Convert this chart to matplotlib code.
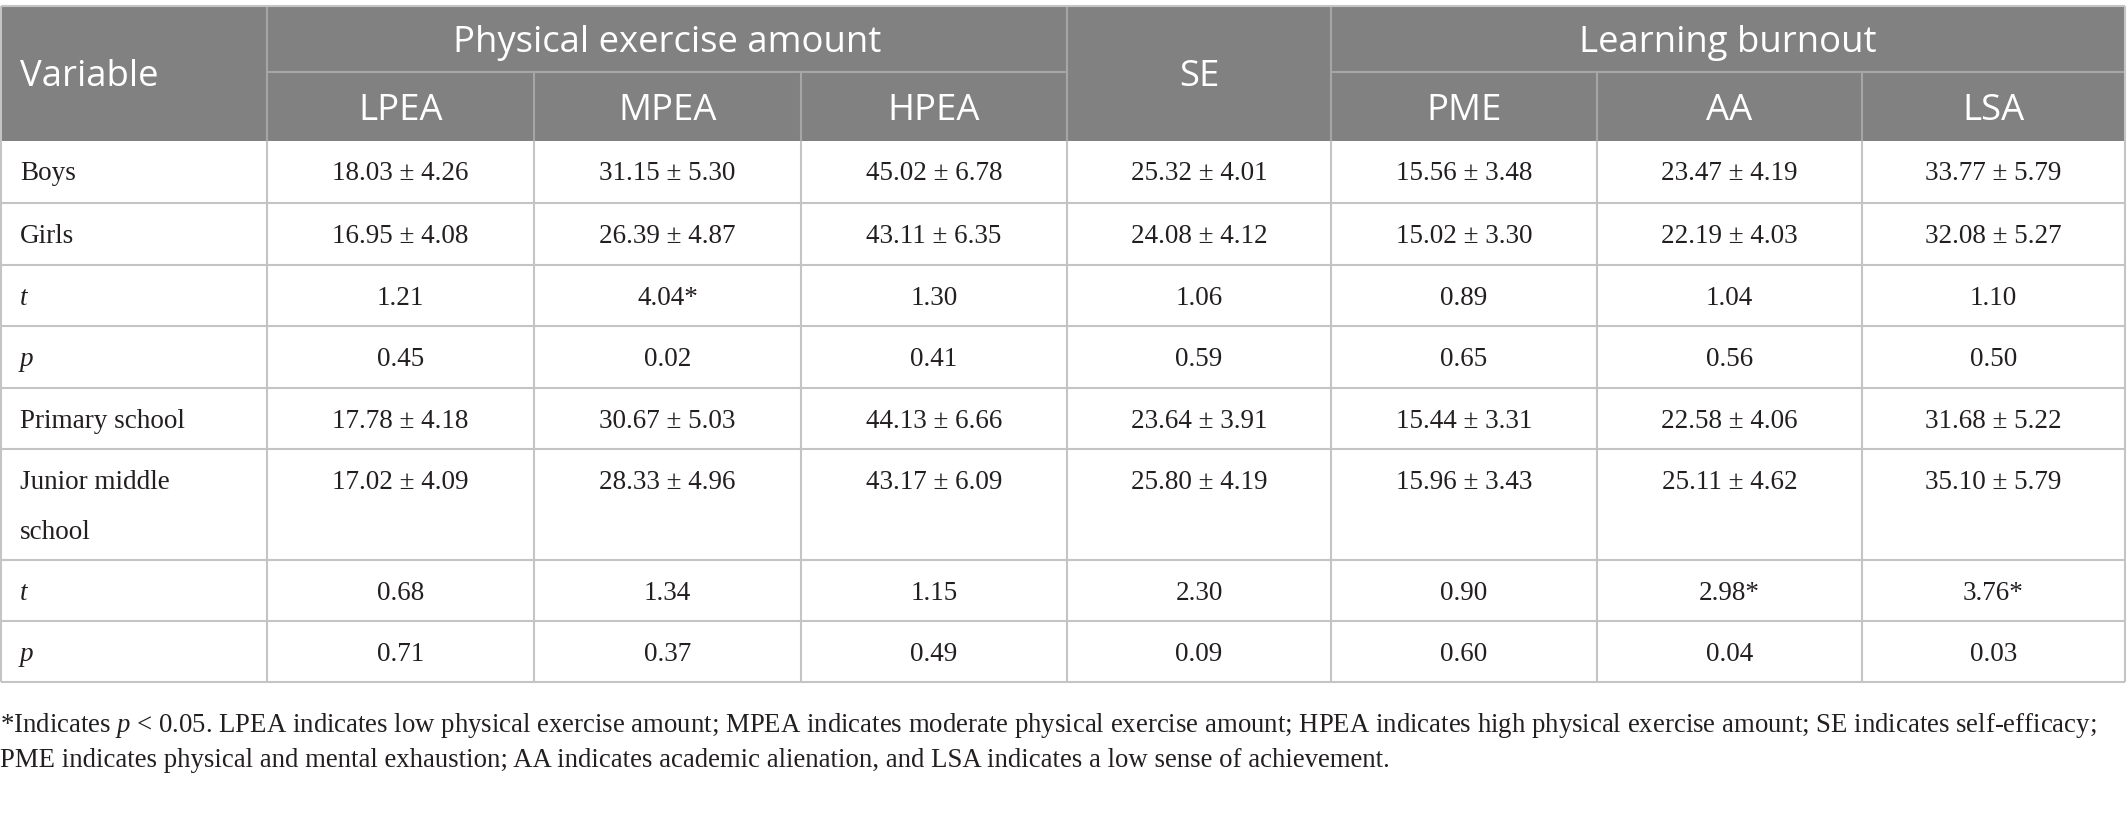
import matplotlib
matplotlib.use("Agg")
import matplotlib.pyplot as plt
from matplotlib.patches import Rectangle

# DATA
group_labels = ["Physical exercise amount", "SE", "Learning burnout"]
sub_labels = ["LPEA", "MPEA", "HPEA", "SE", "PME", "AA", "LSA"]
row_labels = ["Boys", "Girls", "t", "p", "Primary school",
              "Junior middle\nschool", "t", "p"]
italic_rows = [False, False, True, True, False, False, True, True]

lpea = ["18.03 ± 4.26", "16.95 ± 4.08", "1.21", "0.45",
        "17.78 ± 4.18", "17.02 ± 4.09", "0.68", "0.71"]
mpea = ["31.15 ± 5.30", "26.39 ± 4.87", "4.04*", "0.02",
        "30.67 ± 5.03", "28.33 ± 4.96", "1.34", "0.37"]
hpea = ["45.02 ± 6.78", "43.11 ± 6.35", "1.30", "0.41",
        "44.13 ± 6.66", "43.17 ± 6.09", "1.15", "0.49"]
se = ["25.32 ± 4.01", "24.08 ± 4.12", "1.06", "0.59",
      "23.64 ± 3.91", "25.80 ± 4.19", "2.30", "0.09"]
pme = ["15.56 ± 3.48", "15.02 ± 3.30", "0.89", "0.65",
       "15.44 ± 3.31", "15.96 ± 3.43", "0.90", "0.60"]
aa = ["23.47 ± 4.19", "22.19 ± 4.03", "1.04", "0.56",
      "22.58 ± 4.06", "25.11 ± 4.62", "2.98*", "0.04"]
lsa = ["33.77 ± 5.79", "32.08 ± 5.27", "1.10", "0.50",
       "31.68 ± 5.22", "35.10 ± 5.79", "3.76*", "0.03"]
columns = [lpea, mpea, hpea, se, pme, aa, lsa]

footnote_1 = ("*Indicates $p$ < 0.05. LPEA indicates low physical exercise amount; "
              "MPEA indicates moderate physical exercise amount; HPEA indicates high "
              "physical exercise amount; SE indicates self-efficacy;")
footnote_2 = ("PME indicates physical and mental exhaustion; AA indicates academic "
              "alienation, and LSA indicates a low sense of achievement.")

# LAYOUT (pixel coordinates)
W, H = 2127, 822
col_x = [1, 267, 534, 801, 1067, 1331, 1597, 1862, 2125]
head_top, head_mid, head_bot = 6, 72, 141
row_y = [141, 203, 265, 326, 388, 449, 560, 621, 682]

HEAD_BG = "#808180"
HEAD_LINE = "#a6a6a6"
GRID = "#c4c4c4"
TXT = "#231f20"
SANS = ["Open Sans", "DejaVu Sans"]
SERIF = ["Liberation Serif", "DejaVu Serif"]

plt.rcParams["mathtext.fontset"] = "custom"
plt.rcParams["mathtext.it"] = "Liberation Serif:italic"
plt.rcParams["mathtext.rm"] = "Liberation Serif"

fig = plt.figure(figsize=(W / 100, H / 100), dpi=100)
ax = fig.add_axes([0, 0, 1, 1])
ax.set_xlim(0, W)
ax.set_ylim(H, 0)
ax.axis("off")

# header background
ax.add_patch(Rectangle((col_x[0], head_top), col_x[-1] - col_x[0],
                       head_bot - head_top, color=HEAD_BG, lw=0, zorder=1))

# header lines
ax.hlines(head_mid, col_x[1], col_x[4], color=HEAD_LINE, lw=1.5, zorder=2)
ax.hlines(head_mid, col_x[5], col_x[8], color=HEAD_LINE, lw=1.5, zorder=2)
for i in [1, 4, 5]:
    ax.vlines(col_x[i], head_top, head_bot, color=HEAD_LINE, lw=1.5, zorder=2)
for i in [2, 3, 6, 7]:
    ax.vlines(col_x[i], head_mid, head_bot, color=HEAD_LINE, lw=1.5, zorder=2)

# body grid
for y in row_y[1:]:
    ax.hlines(y, col_x[0], col_x[-1], color=GRID, lw=1.5, zorder=2)
for x in col_x:
    ax.vlines(x, head_bot, row_y[-1], color=GRID, lw=1.5, zorder=2)
ax.hlines(head_top, col_x[0], col_x[-1], color=GRID, lw=1.5, zorder=2)
ax.vlines([col_x[0], col_x[-1]], head_top, head_bot, color=GRID, lw=1.5, zorder=2)

# header text
hs = 26.3
dy = 4
ax.text(20, (head_top + head_bot) / 2 + dy, "Variable", color="white", fontsize=hs,
        family=SANS, ha="left", va="center", zorder=3)
ax.text((col_x[1] + col_x[4]) / 2, (head_top + head_mid) / 2 + dy, group_labels[0],
        color="white", fontsize=hs, family=SANS, ha="center", va="center", zorder=3)
ax.text((col_x[4] + col_x[5]) / 2, (head_top + head_bot) / 2 + dy, group_labels[1],
        color="white", fontsize=hs, family=SANS, ha="center", va="center", zorder=3)
ax.text((col_x[5] + col_x[8]) / 2, (head_top + head_mid) / 2 + dy, group_labels[2],
        color="white", fontsize=hs, family=SANS, ha="center", va="center", zorder=3)
for j, lab in enumerate(sub_labels):
    if lab == "SE":
        continue
    cx = (col_x[j + 1] + col_x[j + 2]) / 2
    ax.text(cx, (head_mid + head_bot) / 2 + dy, lab, color="white", fontsize=hs,
            family=SANS, ha="center", va="center", zorder=3)

# body text
bs = 19.5
for i, lab in enumerate(row_labels):
    yc = row_y[i] + 33
    style = "italic" if italic_rows[i] else "normal"
    for k, part in enumerate(lab.split("\n")):
        ax.text(20, yc + 50 * k, part, color=TXT, fontsize=bs, family=SERIF,
                fontstyle=style, ha="left", va="center", zorder=3)
    for j, col in enumerate(columns):
        cx = (col_x[j + 1] + col_x[j + 2]) / 2
        ax.text(cx, yc, col[i], color=TXT, fontsize=bs, family=SERIF,
                ha="center", va="center", zorder=3)

# footnote
ax.text(0, 725, footnote_1, color=TXT, fontsize=19.3, family=SERIF,
        ha="left", va="center")
ax.text(0, 760, footnote_2, color=TXT, fontsize=19.3, family=SERIF,
        ha="left", va="center")

fig.savefig("out.png", dpi=100, facecolor="white")
